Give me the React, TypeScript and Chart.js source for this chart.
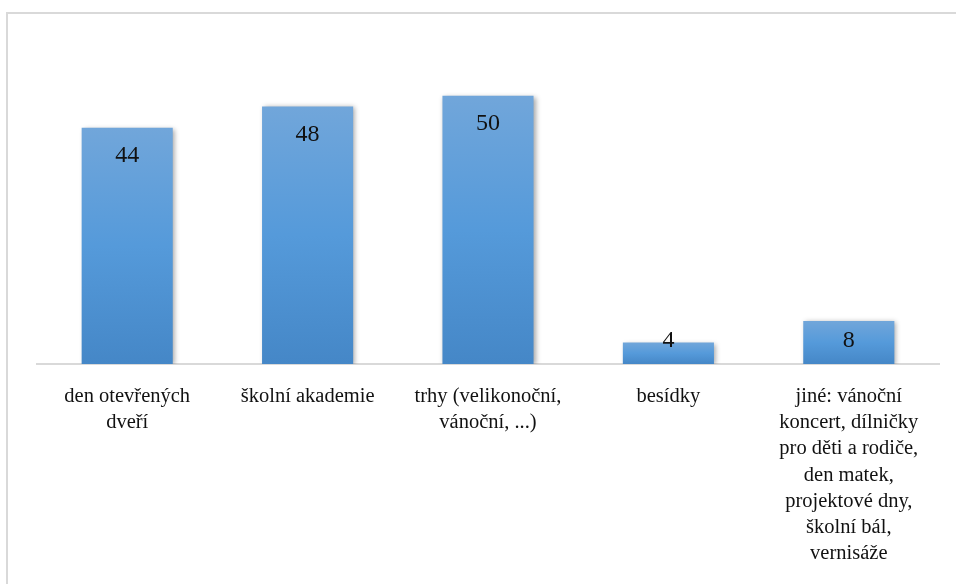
import React, { useEffect, useRef } from "react";
import { Chart, registerables } from "chart.js";

Chart.register(...registerables);

const categories: (string | string[])[] = [
  ["den otevřených", "dveří"],
  "školní akademie",
  ["trhy (velikonoční,", "vánoční, ...)"],
  "besídky",
  ["jiné: vánoční", "koncert, dílničky", "pro děti a rodiče,", "den matek,", "projektové dny,", "školní bál,", "vernisáže"],
];
const values: number[] = [44, 48, 50, 4, 8];

const SERIF = "'Liberation Serif', 'DejaVu Serif', serif";

const framePlugin = {
  id: "frame",
  beforeDraw(chart: any) {
    const ctx = chart.ctx;
    ctx.save();
    ctx.fillStyle = "#ffffff";
    ctx.fillRect(0, 0, chart.width, chart.height);
    ctx.strokeStyle = "#d9d9d9";
    ctx.lineWidth = 2;
    ctx.strokeRect(7, 13, 1200, 1000);
    ctx.restore();
  },
};

const shadowPlugin = {
  id: "barShadow",
  beforeDatasetDraw(chart: any) {
    const ctx = chart.ctx;
    ctx.save();
    ctx.shadowColor = "rgba(0,0,0,0.35)";
    ctx.shadowBlur = 5;
    ctx.shadowOffsetX = 2;
    ctx.shadowOffsetY = 1;
  },
  afterDatasetDraw(chart: any) {
    chart.ctx.restore();
  },
};

const labelPlugin = {
  id: "valueLabels",
  afterDatasetsDraw(chart: any) {
    const ctx = chart.ctx;
    const meta = chart.getDatasetMeta(0);
    const base = chart.scales.y.getPixelForValue(0);
    ctx.save();
    ctx.font = `24px ${SERIF}`;
    ctx.fillStyle = "#111111";
    ctx.textAlign = "center";
    ctx.textBaseline = "middle";
    meta.data.forEach((bar: any, i: number) => {
      const cy = Math.min(bar.y + 28, base - 23);
      ctx.fillText(String(values[i]), bar.x, cy);
    });
    ctx.restore();
  },
};

export default function App() {
  const ref = useRef<HTMLCanvasElement>(null);
  useEffect(() => {
    if (!ref.current) return;
    const chart = new Chart(ref.current, {
      type: "bar",
      data: {
        labels: categories,
        datasets: [
          {
            data: values,
            backgroundColor: (c: any) => {
              const area = c.chart.chartArea;
              const ys = c.chart.scales?.y;
              if (!area || !ys || typeof c.raw !== "number") return "#5b9bd5";
              const top = ys.getPixelForValue(c.raw);
              const bottom = ys.getPixelForValue(0);
              const g = c.chart.ctx.createLinearGradient(0, top, 0, bottom);
              g.addColorStop(0, "#71a6da");
              g.addColorStop(0.5, "#559ada");
              g.addColorStop(1, "#4587c7");
              return g;
            },
            borderWidth: 0,
            categoryPercentage: 1,
            barPercentage: 0.505,
          },
        ],
      },
      options: {
        responsive: false,
        animation: false,
        layout: { padding: { top: 42, left: 37, right: 17, bottom: 0 } },
        plugins: { legend: { display: false }, tooltip: { enabled: false } },
        scales: {
          y: { display: false, min: 0, max: 60 },
          x: {
            grid: { display: false, drawTicks: false },
            border: { display: true, color: "#d9d9d9", width: 2 },
            ticks: {
              color: "#111111",
              font: { family: SERIF, size: 20.5, lineHeight: 1.27 },
              padding: 20,
              maxRotation: 0,
              autoSkip: false,
            },
            afterFit: (s: any) => {
              s.height = 220;
            },
          },
        },
      },
      plugins: [framePlugin, shadowPlugin, labelPlugin],
    });
    return () => chart.destroy();
  }, []);
  return (
    <canvas
      ref={ref}
      width={956}
      height={584}
      style={{ position: "fixed", left: 0, top: 0, display: "block" }}
    />
  );
}
